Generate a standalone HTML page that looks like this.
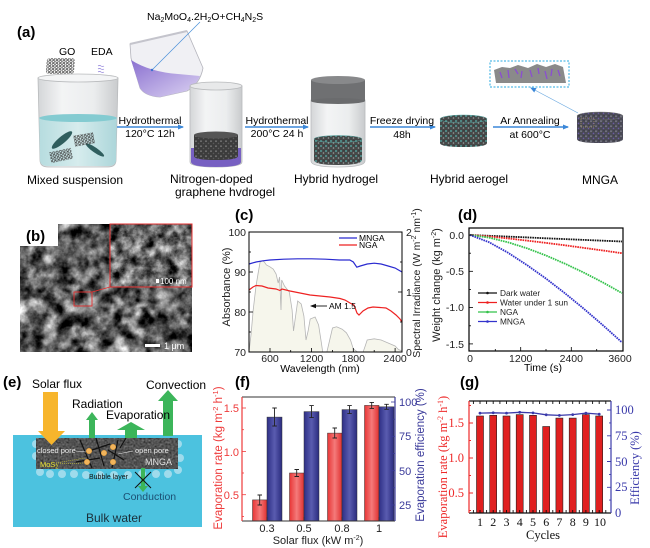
<!DOCTYPE html>
<html><head><meta charset="utf-8"><style>
html,body{margin:0;padding:0;background:#fff;}
svg{display:block;font-family:"Liberation Sans",Arial,sans-serif;}
</style></head><body>
<svg width="650" height="548" viewBox="0 0 650 548" xmlns="http://www.w3.org/2000/svg">
<defs>
 <marker id="ah" markerWidth="6" markerHeight="6" refX="5" refY="3" orient="auto" markerUnits="userSpaceOnUse"><path d="M0,0.5 L6,3 L0,5.5 Z" fill="#3b87d8"/></marker>
 <marker id="ahk" markerWidth="6" markerHeight="6" refX="5" refY="3" orient="auto" markerUnits="userSpaceOnUse"><path d="M0,0.8 L6,3 L0,5.2 Z" fill="#111"/></marker>
 <linearGradient id="glass" x1="0" x2="1"><stop offset="0" stop-color="#d4d6d8"/><stop offset="0.3" stop-color="#f3f4f5"/><stop offset="0.7" stop-color="#ebedee"/><stop offset="1" stop-color="#c9cbcd"/></linearGradient>
 <linearGradient id="water" x1="0" x2="1"><stop offset="0" stop-color="#b6dcdf"/><stop offset="0.5" stop-color="#d6eced"/><stop offset="1" stop-color="#acd6da"/></linearGradient>
 <linearGradient id="purp" x1="0" y1="0" x2="1" y2="1"><stop offset="0" stop-color="#8a70d0"/><stop offset="1" stop-color="#dcd3f2"/></linearGradient>
 <linearGradient id="redbar" x1="0" x2="1"><stop offset="0" stop-color="#e83535"/><stop offset="0.5" stop-color="#f47a7a"/><stop offset="1" stop-color="#e03030"/></linearGradient>
 <linearGradient id="bluebar" x1="0" x2="1"><stop offset="0" stop-color="#2e2f85"/><stop offset="0.5" stop-color="#5a5cb0"/><stop offset="1" stop-color="#2a2b7e"/></linearGradient>
 <pattern id="hex" width="3.5" height="3" patternUnits="userSpaceOnUse"><circle cx="1.75" cy="1.5" r="1.2" fill="none" stroke="#3a3a3a" stroke-width="0.6"/></pattern>
 <pattern id="spk" width="5" height="5" patternUnits="userSpaceOnUse"><rect width="5" height="5" fill="#454848"/><circle cx="1" cy="1" r="0.9" fill="#58b3ad"/><circle cx="3.5" cy="3" r="0.8" fill="#9a9c9c"/><circle cx="4" cy="0.8" r="0.5" fill="#2a2a2a"/></pattern>
 <pattern id="spk2" width="5" height="5" patternUnits="userSpaceOnUse"><rect width="5" height="5" fill="#4a4a55"/><circle cx="1" cy="1.2" r="0.9" fill="#7a7a88"/><circle cx="3.5" cy="3.4" r="0.8" fill="#6a5aa5"/><circle cx="4" cy="0.8" r="0.5" fill="#2a2a30"/></pattern>
 <pattern id="spk3" width="5" height="5" patternUnits="userSpaceOnUse"><rect width="5" height="5" fill="#3c3c3c"/><circle cx="1" cy="1.2" r="0.9" fill="#777"/><circle cx="3.5" cy="3.4" r="0.8" fill="#5a5a5a"/></pattern>
 <filter id="sem" x="0" y="0" width="1" height="1" color-interpolation-filters="sRGB"><feTurbulence type="fractalNoise" baseFrequency="0.07" numOctaves="4" seed="7" result="n"/><feColorMatrix in="n" type="matrix" values="0.33 0.33 0.33 0 0  0.33 0.33 0.33 0 0  0.33 0.33 0.33 0 0  0 0 0 0 1"/><feComponentTransfer><feFuncR type="linear" slope="2.8" intercept="-1.02"/><feFuncG type="linear" slope="2.8" intercept="-1.02"/><feFuncB type="linear" slope="2.8" intercept="-1.02"/></feComponentTransfer></filter>
 <filter id="sem2" x="0" y="0" width="1" height="1" color-interpolation-filters="sRGB"><feTurbulence type="fractalNoise" baseFrequency="0.09" numOctaves="4" seed="2" result="n"/><feColorMatrix in="n" type="matrix" values="0.33 0.33 0.33 0 0  0.33 0.33 0.33 0 0  0.33 0.33 0.33 0 0  0 0 0 0 1"/><feComponentTransfer><feFuncR type="linear" slope="2.6" intercept="-0.88"/><feFuncG type="linear" slope="2.6" intercept="-0.88"/><feFuncB type="linear" slope="2.6" intercept="-0.88"/></feComponentTransfer></filter>
 <filter id="grain" x="0" y="0" width="1" height="1" color-interpolation-filters="sRGB"><feTurbulence type="fractalNoise" baseFrequency="0.5" numOctaves="2" seed="4" result="n"/><feColorMatrix in="n" type="matrix" values="0.33 0.33 0.33 0 0  0.33 0.33 0.33 0 0  0.33 0.33 0.33 0 0  0 0 0 0 1"/><feComponentTransfer><feFuncR type="linear" slope="1.4" intercept="-0.35"/><feFuncG type="linear" slope="1.4" intercept="-0.35"/><feFuncB type="linear" slope="1.4" intercept="-0.35"/></feComponentTransfer></filter>
</defs>
<rect width="650" height="548" fill="#fff"/>

<!-- ================= (a) ================= -->
<text x="17" y="37" font-size="15" font-weight="bold">(a)</text>
<text x="59" y="55" font-size="10.5">GO</text>
<text x="91" y="55" font-size="10.5">EDA</text>
<rect x="51" y="58" width="28" height="16" rx="3" fill="url(#hex)" transform="skewX(-4)"/>
<path d="M98,66 q1.5,-1 3,0 q1.5,1 3,0 M98,69 q1.5,-1 3,0 q1.5,1 3,0 M98,72 q1.5,-1 3,0 q1.5,1 3,0" fill="none" stroke="#8a7ad8" stroke-width="0.7"/>

<!-- beaker 1 -->
<path d="M38,78 L40,160 Q40,167 48,167 L108,167 Q116,167 116,160 L118,78 Z" fill="url(#glass)" stroke="#b8babc" stroke-width="0.8"/>
<ellipse cx="78" cy="78" rx="40" ry="4" fill="#f4f5f6" stroke="#b8babc" stroke-width="0.8"/>
<path d="M39.2,118 L40,160 Q40,166 48,166 L108,166 Q116,166 116,160 L116.8,118 Z" fill="url(#water)"/>
<ellipse cx="78" cy="118" rx="38.8" ry="4" fill="#84cbd1"/>
<ellipse cx="62" cy="140" rx="13" ry="3.5" transform="rotate(-40 62 140)" fill="#2f5e5e"/>
<ellipse cx="95" cy="150" rx="11" ry="2.5" transform="rotate(35 95 150)" fill="#2f5e5e"/>
<rect x="74" y="134" width="20" height="11" fill="url(#hex)" transform="rotate(-10 84 139)"/>
<rect x="50" y="150" width="22" height="11" fill="url(#hex)" transform="rotate(-12 61 155)"/>

<!-- pour beaker -->
<path d="M130,44 L187,31 L203,68 Q200,84 187,91 L160,97 Q145,96 140,88 L131,58 Z" fill="#f0f0f4" stroke="#b4b4bc" stroke-width="0.8"/>
<path d="M131,60 Q150,72 178,74 L200,76 Q196,86 186,91 L160,97 Q145,96 140,88 Z" fill="url(#purp)"/>
<path d="M130,44 L187,31" stroke="#c4c4cc" stroke-width="2"/>
<line x1="200" y1="22" x2="152" y2="70" stroke="#4a90d9" stroke-width="0.7"/>
<circle cx="152" cy="70" r="1.2" fill="#3b6fd0"/>
<text x="147" y="20" font-size="10.5">Na<tspan font-size="7" dy="2">2</tspan><tspan dy="-2">MoO</tspan><tspan font-size="7" dy="2">4</tspan><tspan dy="-2">.2H</tspan><tspan font-size="7" dy="2">2</tspan><tspan dy="-2">O+CH</tspan><tspan font-size="7" dy="2">4</tspan><tspan dy="-2">N</tspan><tspan font-size="7" dy="2">2</tspan><tspan dy="-2">S</tspan></text>

<!-- arrow 1 -->
<line x1="117" y1="127" x2="183" y2="127" stroke="#3b87d8" stroke-width="1.4" marker-end="url(#ah)"/>
<text x="150" y="124" font-size="10.5" text-anchor="middle">Hydrothermal</text>
<text x="150" y="137" font-size="10.5" text-anchor="middle">120°C  12h</text>

<!-- jar 2 -->
<path d="M190,86 L190,162 Q190,167 216,167 Q242,167 242,162 L242,86 Z" fill="url(#glass)" stroke="#b8babc" stroke-width="0.8"/>
<ellipse cx="216" cy="86" rx="26" ry="4" fill="#e8e9ea" stroke="#b8babc" stroke-width="0.8"/>
<path d="M191,148 L191,162 Q191,167 216,167 Q241,167 241,162 L241,148 Z" fill="#7760c2"/>
<path d="M194,135 L194,156 Q194,160 216,160 Q238,160 238,156 L238,135 Z" fill="url(#spk3)"/>
<ellipse cx="216" cy="135" rx="22" ry="3.5" fill="#555"/>

<line x1="245" y1="127" x2="308" y2="127" stroke="#3b87d8" stroke-width="1.4" marker-end="url(#ah)"/>
<text x="277" y="124" font-size="10.5" text-anchor="middle">Hydrothermal</text>
<text x="277" y="137" font-size="10.5" text-anchor="middle">200°C  24 h</text>

<!-- jar 3 -->
<path d="M311,100 L311,161 Q311,167 338,167 Q365,167 365,161 L365,100 Z" fill="url(#glass)" stroke="#b8babc" stroke-width="0.8"/>
<rect x="311" y="80" width="54" height="21" fill="#6f7072"/>
<ellipse cx="338" cy="101" rx="27" ry="3" fill="#6a6b6d"/>
<ellipse cx="338" cy="80" rx="27" ry="4" fill="#88898b"/>
<path d="M314,139 L314,160 Q314,165 338,165 Q362,165 362,160 L362,139 Z" fill="url(#spk)"/>
<ellipse cx="338" cy="139" rx="24" ry="3.5" fill="url(#spk)" stroke="#5aa7a2" stroke-width="0.5"/>

<line x1="370" y1="127" x2="435" y2="127" stroke="#3b87d8" stroke-width="1.4" marker-end="url(#ah)"/>
<text x="402" y="124" font-size="10.5" text-anchor="middle">Freeze drying</text>
<text x="402" y="138" font-size="10.5" text-anchor="middle">48h</text>

<!-- aerogel -->
<path d="M440,119 L440,143 Q440,147 463.5,147 Q487,147 487,143 L487,119 Z" fill="url(#spk)"/>
<ellipse cx="463.5" cy="119" rx="23.5" ry="4" fill="url(#spk)" stroke="#5aa7a2" stroke-width="0.5"/>

<line x1="493" y1="127" x2="568" y2="127" stroke="#3b87d8" stroke-width="1.4" marker-end="url(#ah)"/>
<text x="530" y="124" font-size="10.5" text-anchor="middle">Ar Annealing</text>
<text x="530" y="138" font-size="10.5" text-anchor="middle">at  600°C</text>

<!-- MNGA cylinder -->
<path d="M577,116 L577,139 Q577,143 600,143 Q623,143 623,139 L623,116 Z" fill="url(#spk2)"/>
<ellipse cx="600" cy="116" rx="23" ry="4" fill="url(#spk2)" stroke="#777" stroke-width="0.4"/>
<rect x="581" y="118" width="13" height="9" fill="none" stroke="#c8b060" stroke-width="0.5" stroke-dasharray="1,1"/>
<line x1="578" y1="113" x2="531" y2="88" stroke="#6aa8e0" stroke-width="0.7" marker-end="url(#ah)"/>
<rect x="490" y="61" width="79" height="26" fill="none" stroke="#2aa9e0" stroke-width="1" stroke-dasharray="2,1.5"/>
<path d="M494,70 L502,67 L510,68 L518,65 L528,68 L537,64 L546,67 L555,64 L563,67 L566,83 L496,83 Z" fill="#8a8a8a"/>
<path d="M500,72 l2,6 M508,70 l1,8 M515,69 l3,5 M522,71 l-1,7 M530,70 l2,7 M538,68 l1,6 M545,71 l2,8 M552,69 l-1,7 M558,70 l2,6" stroke="#8a4fd0" stroke-width="1.3"/>

<!-- labels row -->
<text x="27" y="184" font-size="12">Mixed  suspension</text>
<text x="170" y="183" font-size="12">Nitrogen-doped</text>
<text x="175" y="196" font-size="12">graphene hvdrogel</text>
<text x="294" y="183" font-size="12">Hybrid  hydrogel</text>
<text x="430" y="183" font-size="12">Hybrid  aerogel</text>
<text x="582" y="184" font-size="12">MNGA</text>

<!-- ================= (b) ================= -->
<rect x="20" y="224" width="172" height="128" fill="#666" filter="url(#sem)"/>
<rect x="20" y="224" width="38" height="22" fill="#fff"/>
<text x="26" y="241" font-size="15" font-weight="bold">(b)</text>
<rect x="110" y="224" width="82" height="63" fill="#777" filter="url(#sem2)"/>
<rect x="110" y="224" width="82" height="63" fill="none" stroke="#e53030" stroke-width="1"/>
<rect x="74" y="292" width="18" height="14" fill="none" stroke="#e53030" stroke-width="0.9"/>
<line x1="92" y1="292" x2="110" y2="287" stroke="#e53030" stroke-width="0.9"/>
<rect x="156" y="279" width="3" height="4" fill="#fff"/>
<text x="160" y="284" font-size="8" fill="#fff">100 nm</text>
<rect x="145" y="344" width="15" height="3" fill="#fff"/>
<text x="164" y="349" font-size="9" fill="#fff">1 μm</text>

<!-- ================= (c) ================= -->
<text x="235" y="220" font-size="15" font-weight="bold">(c)</text>
<path d="M249,352 L251.1,334 L253.2,310 L256,286 L258,274 L260.1,262 L262.2,260.8 L264.3,262 L266.4,265 L269.9,266.8 L273.3,269.2 L276.1,274 L278.2,283 L279.6,277 L281,310 L281.7,280 L284.5,286 L289.3,292 L292.1,310 L293.5,331 L295.6,316 L297.7,301 L301.2,304 L303.9,316 L306,340 L308.1,331 L310.2,319 L315.1,317 L318.6,325 L321.4,343 L322.7,352 L326.9,352 L329.7,340 L332.5,328 L336.6,326.8 L342.2,329.2 L346.4,332.8 L350.5,340 L353.3,349 L357.5,352 L363.1,352 L365.2,346 L367.2,340 L374.2,338.8 L381.1,340 L388.1,343 L395.1,346 L398.5,349.6 L402,350.8 L402,352 Z" fill="#f6f6ec" stroke="#b5b5b5" stroke-width="0.8"/>
<polyline points="249,264 256,262 262.9,260.8 269.9,260 283.8,259.2 297.7,258.8 311.6,258.8 325.5,259.2 339.4,260 349.8,260 353.3,262 356.8,267.2 360.3,266 367.2,264 374.2,263.2 381.1,264 388.1,266 395.1,268 398.5,270 402,272" fill="none" stroke="#2a2ad0" stroke-width="1.2"/>
<polyline points="249,290 253,287 256,285.5 262,286 268,288 276,289 280,290.5 282,289 290,291 300,293 310,295 320,296 330,297 340,298.5 345,300 350,303 354,305 357,313 359,315 363,311 368,308 373,307 380,307.5 386,308 391,311 396,315 400,319 402,322" fill="none" stroke="#ee2222" stroke-width="1.2"/>
<rect x="249" y="232" width="153" height="120" fill="none" stroke="#000" stroke-width="1"/>
<g stroke="#000" stroke-width="0.8">
 <line x1="270" y1="352" x2="270" y2="348"/><line x1="311.6" y1="352" x2="311.6" y2="348"/><line x1="353.3" y1="352" x2="353.3" y2="348"/><line x1="395.1" y1="352" x2="395.1" y2="348"/>
 <line x1="290.7" y1="352" x2="290.7" y2="350"/><line x1="332.5" y1="352" x2="332.5" y2="350"/><line x1="374.2" y1="352" x2="374.2" y2="350"/>
 <line x1="249" y1="272" x2="253" y2="272"/><line x1="249" y1="312" x2="253" y2="312"/>
 <line x1="249" y1="252" x2="251" y2="252"/><line x1="249" y1="292" x2="251" y2="292"/><line x1="249" y1="332" x2="251" y2="332"/>
 <line x1="402" y1="292" x2="398" y2="292"/><line x1="402" y1="262" x2="400" y2="262"/><line x1="402" y1="322" x2="400" y2="322"/>
</g>
<g font-size="10.5" fill="#222">
 <text x="246" y="236" text-anchor="end">100</text><text x="246" y="276" text-anchor="end">90</text><text x="246" y="316" text-anchor="end">80</text><text x="246" y="356" text-anchor="end">70</text>
 <text x="406" y="236">2</text><text x="406" y="296">1</text><text x="406" y="356">0</text>
 <text x="270" y="362" text-anchor="middle">600</text><text x="311.6" y="362" text-anchor="middle">1200</text><text x="353.3" y="362" text-anchor="middle">1800</text><text x="395.1" y="362" text-anchor="middle">2400</text>
</g>
<text x="320" y="372" font-size="10.5" text-anchor="middle">Wavelength (nm)</text>
<text transform="translate(230,287) rotate(-90)" font-size="11" text-anchor="middle" fill="#222">Absorbance (%)</text>
<text transform="translate(420,283) rotate(-90)" font-size="10.5" text-anchor="middle" fill="#222">Spectral Irradiance (W m<tspan font-size="7" dy="-4">-2</tspan><tspan dy="4"> nm</tspan><tspan font-size="7" dy="-4">-1</tspan><tspan dy="4">)</tspan></text>
<line x1="339" y1="238" x2="357" y2="238" stroke="#2a2ad0" stroke-width="1.2"/>
<text x="359" y="241" font-size="8.5">MNGA</text>
<line x1="339" y1="245" x2="357" y2="245" stroke="#ee2222" stroke-width="1.2"/>
<text x="359" y="248" font-size="8.5">NGA</text>
<line x1="327" y1="306" x2="311" y2="306" stroke="#111" stroke-width="0.9" marker-end="url(#ahk)"/>
<text x="329" y="309" font-size="8.5">AM 1.5</text>

<!-- ================= (d) ================= -->
<text x="458" y="220" font-size="15" font-weight="bold">(d)</text>
<polyline points="470,235 489,235.8 508,236.6 527,237.4 546,238.3 565,239.1 584,239.9 603,240.7 622,241.5" fill="none" stroke="#111" stroke-width="1.8" stroke-dasharray="1.6,0.8"/>
<polyline points="470,235 489,236.5 508,238.4 527,240.6 546,242.9 565,245.3 584,247.9 603,250.5 622,253.2" fill="none" stroke="#ee2020" stroke-width="1.8" stroke-dasharray="1.6,0.8"/>
<polyline points="470,235 489,237.6 508,242.3 527,248.3 546,255.5 565,263.7 584,272.7 603,282.5 622,293.1" fill="none" stroke="#33c24a" stroke-width="1.8" stroke-dasharray="1.6,0.8"/>
<polyline points="470,235 489,242.2 508,252.7 527,265.1 546,278.6 565,293.3 584,308.9 603,325.3 622,342.4" fill="none" stroke="#3333cc" stroke-width="1.8" stroke-dasharray="1.6,0.8"/>
<rect x="469" y="228" width="154" height="123" fill="none" stroke="#000" stroke-width="1.2"/>
<g stroke="#000" stroke-width="0.8">
 <line x1="520.7" y1="351" x2="520.7" y2="347"/><line x1="571.3" y1="351" x2="571.3" y2="347"/>
 <line x1="495.3" y1="351" x2="495.3" y2="349"/><line x1="546" y1="351" x2="546" y2="349"/><line x1="596.7" y1="351" x2="596.7" y2="349"/>
 <line x1="469" y1="235" x2="473" y2="235"/><line x1="469" y1="271.3" x2="473" y2="271.3"/><line x1="469" y1="307.6" x2="473" y2="307.6"/><line x1="469" y1="343.9" x2="473" y2="343.9"/>
 <line x1="469" y1="253.2" x2="471" y2="253.2"/><line x1="469" y1="289.5" x2="471" y2="289.5"/><line x1="469" y1="325.8" x2="471" y2="325.8"/>
</g>
<g font-size="10.5" fill="#222">
 <text x="464" y="239" text-anchor="end">0.0</text><text x="464" y="275" text-anchor="end">-0.5</text><text x="464" y="311" text-anchor="end">-1.0</text><text x="464" y="348" text-anchor="end">-1.5</text>
 <text x="470" y="362" text-anchor="middle">0</text><text x="520.7" y="362" text-anchor="middle">1200</text><text x="571.3" y="362" text-anchor="middle">2400</text><text x="620" y="362" text-anchor="middle">3600</text>
</g>
<text x="543" y="371" font-size="10.5" text-anchor="middle">Time (s)</text>
<text transform="translate(440,285) rotate(-90)" font-size="11" text-anchor="middle" fill="#222">Weight change (kg m<tspan font-size="7" dy="-4">-2</tspan><tspan dy="4">)</tspan></text>
<g font-size="8.3" fill="#222">
 <line x1="478" y1="293" x2="497" y2="293" stroke="#111" stroke-width="1.2"/><circle cx="487.5" cy="293" r="1.3" fill="#111"/><text x="500" y="296">Dark water</text>
 <line x1="478" y1="302.5" x2="497" y2="302.5" stroke="#ee2020" stroke-width="1.2"/><circle cx="487.5" cy="302.5" r="1.3" fill="#ee2020"/><text x="500" y="305.5">Water under 1 sun</text>
 <line x1="478" y1="312" x2="497" y2="312" stroke="#33c24a" stroke-width="1.2"/><circle cx="487.5" cy="312" r="1.3" fill="#33c24a"/><text x="500" y="315">NGA</text>
 <line x1="478" y1="321.5" x2="497" y2="321.5" stroke="#3333cc" stroke-width="1.2"/><circle cx="487.5" cy="321.5" r="1.3" fill="#3333cc"/><text x="500" y="324.5">MNGA</text>
</g>

<!-- ================= (e) ================= -->
<text x="3" y="387" font-size="15" font-weight="bold">(e)</text>
<rect x="13" y="435" width="189" height="92" fill="#4cc2df"/>
<g fill="#a9deee" opacity="0.9">
 <circle cx="36" cy="444" r="4"/><circle cx="36" cy="456" r="4"/><circle cx="40" cy="472" r="4"/><circle cx="50" cy="474" r="4"/><circle cx="62" cy="474" r="4"/><circle cx="74" cy="474" r="4"/><circle cx="86" cy="475" r="4"/><circle cx="100" cy="475" r="4"/><circle cx="114" cy="475" r="4"/><circle cx="128" cy="475" r="4"/><circle cx="142" cy="474" r="4"/><circle cx="156" cy="474" r="4"/><circle cx="168" cy="474" r="4"/><circle cx="178" cy="444" r="4"/><circle cx="180" cy="458" r="4"/><circle cx="178" cy="470" r="4"/>
</g>
<rect x="36" y="438" width="142" height="31" fill="#5e5e5e" filter="url(#grain)"/>
<rect x="36" y="438" width="142" height="31" fill="#4e4e4e" opacity="0.5"/>
<path d="M80,440 L92,468 M86,452 L110,444 M96,438 L104,466 M108,450 L124,460 M118,440 L112,468 M76,462 L100,458 M120,448 L126,438" stroke="#111" stroke-width="1.2" fill="none"/>
<g fill="#f1b45c" stroke="#c98a30" stroke-width="0.5">
 <circle cx="89" cy="451" r="2.8"/><circle cx="104" cy="453" r="2.8"/><circle cx="113" cy="447" r="2.8"/><circle cx="87" cy="462" r="2.8"/><circle cx="113" cy="462" r="2.8"/>
</g>
<text x="37" y="453" font-size="7.5" fill="#e8e8e8">closed pore</text>
<text x="135" y="453" font-size="7.5" fill="#e8e8e8">open pore</text>
<line x1="76" y1="451" x2="86" y2="452" stroke="#e8e8e8" stroke-width="0.6"/>
<line x1="133" y1="451" x2="118" y2="454" stroke="#e8e8e8" stroke-width="0.6"/>
<text x="145" y="465" font-size="9" fill="#e0e0e0">MNGA</text>
<text x="40" y="467" font-size="7.5" fill="#e8e030">MoS<tspan font-size="5" dy="1.5">2</tspan></text>
<line x1="56" y1="463" x2="85" y2="458" stroke="#e8e030" stroke-width="0.5" stroke-dasharray="1,1"/>
<line x1="56" y1="464" x2="84" y2="463" stroke="#e8e030" stroke-width="0.5" stroke-dasharray="1,1"/>
<text x="89" y="479" font-size="7" fill="#111">Bubble layer</text>
<!-- arrows -->
<path d="M43,392 L58,392 L58,431 L65,431 L51.5,445 L38,431 L43,431 Z" fill="#f7b52c"/>
<path d="M89,438 L89,420 L86,420 L92,412 L98,420 L95,420 L95,438 Z" fill="#3cb55a"/>
<path d="M125,438 L125,430 L117,430 L131,422 L145,430 L137,430 L137,438 Z" fill="#3cb55a"/>
<path d="M163,436 L163,401 L158,401 L168,390 L178,401 L173,401 L173,436 Z" fill="#3cb55a"/>
<path d="M141,468 L145,468 L145,486 L148,486 L143,492 L138,486 L141,486 Z" fill="#3cb55a"/>
<path d="M135,472 L151,488 M151,472 L135,488" stroke="#111" stroke-width="1"/>
<text x="32" y="388" font-size="12">Solar flux</text>
<text x="72" y="408" font-size="12">Radiation</text>
<text x="106" y="419" font-size="12">Evaporation</text>
<text x="146" y="389" font-size="12">Convection</text>
<text x="123" y="500" font-size="10.5" fill="#1b4f72">Conduction</text>
<text x="86" y="522" font-size="12" fill="#1a2f3a">Bulk water</text>

<!-- ================= (f) ================= -->
<text x="235" y="387" font-size="15" font-weight="bold">(f)</text>
<g stroke="#333" stroke-width="0.5">
 <rect x="252.5" y="499.9" width="14.5" height="21.1" fill="url(#redbar)"/>
 <rect x="267" y="417.1" width="15" height="103.9" fill="url(#bluebar)"/>
 <rect x="289.5" y="473" width="14.5" height="48" fill="url(#redbar)"/>
 <rect x="304" y="411.6" width="15" height="109.4" fill="url(#bluebar)"/>
 <rect x="327.5" y="433.1" width="14.5" height="87.9" fill="url(#redbar)"/>
 <rect x="342" y="409.6" width="15" height="111.4" fill="url(#bluebar)"/>
 <rect x="364.5" y="405.4" width="14.5" height="115.6" fill="url(#redbar)"/>
 <rect x="379" y="406.8" width="15" height="114.2" fill="url(#bluebar)"/>
</g>
<g stroke="#222" stroke-width="0.9" fill="none">
 <path d="M259.7,495 V505 M257.5,495 H262 M257.5,505 H262"/>
 <path d="M274.5,408 V426 M272.3,408 H276.8 M272.3,426 H276.8"/>
 <path d="M296.7,469.5 V476.5 M294.5,469.5 H299 M294.5,476.5 H299"/>
 <path d="M311.5,405.6 V417.6 M309.3,405.6 H313.8 M309.3,417.6 H313.8"/>
 <path d="M334.7,428 V438 M332.5,428 H337 M332.5,438 H337"/>
 <path d="M349.5,405.6 V413.6 M347.3,405.6 H351.8 M347.3,413.6 H351.8"/>
 <path d="M371.7,402.4 V408.4 M369.5,402.4 H374 M369.5,408.4 H374"/>
 <path d="M386.5,404.3 V409.3 M384.3,404.3 H388.8 M384.3,409.3 H388.8"/>
</g>
<line x1="242" y1="397" x2="395" y2="397" stroke="#333" stroke-width="1"/>
<line x1="242" y1="521" x2="395" y2="521" stroke="#333" stroke-width="1"/>
<line x1="242" y1="397" x2="242" y2="521" stroke="#ee3a3a" stroke-width="1.2"/>
<line x1="395" y1="397" x2="395" y2="521" stroke="#3a3a9a" stroke-width="1.2"/>
<g stroke="#ee3a3a" stroke-width="0.8">
 <line x1="242" y1="408" x2="246" y2="408"/><line x1="242" y1="451.4" x2="246" y2="451.4"/><line x1="242" y1="494.7" x2="246" y2="494.7"/>
 <line x1="242" y1="429.7" x2="244" y2="429.7"/><line x1="242" y1="473" x2="244" y2="473"/><line x1="242" y1="516.4" x2="244" y2="516.4"/>
</g>
<g stroke="#3a3a9a" stroke-width="0.8">
 <line x1="395" y1="402" x2="391" y2="402"/><line x1="395" y1="436.3" x2="391" y2="436.3"/><line x1="395" y1="470.7" x2="391" y2="470.7"/><line x1="395" y1="505" x2="391" y2="505"/>
 <line x1="395" y1="419.2" x2="393" y2="419.2"/><line x1="395" y1="453.5" x2="393" y2="453.5"/><line x1="395" y1="487.8" x2="393" y2="487.8"/>
</g>
<g stroke="#333" stroke-width="0.8">
 <line x1="267" y1="521" x2="267" y2="517"/><line x1="304" y1="521" x2="304" y2="517"/><line x1="342" y1="521" x2="342" y2="517"/><line x1="379" y1="521" x2="379" y2="517"/>
</g>
<g font-size="11" fill="#ee3a3a">
 <text x="239" y="412" text-anchor="end">1.5</text><text x="239" y="456" text-anchor="end">1.0</text><text x="239" y="499" text-anchor="end">0.5</text>
</g>
<g font-size="11" fill="#3a3a9a">
 <text x="399" y="406">100</text><text x="399" y="440">75</text><text x="399" y="475">50</text><text x="399" y="509">25</text>
</g>
<g font-size="11" fill="#222" text-anchor="middle">
 <text x="267" y="532">0.3</text><text x="304" y="532">0.5</text><text x="342" y="532">0.8</text><text x="379" y="532">1</text>
</g>
<text x="318" y="544" font-size="11" text-anchor="middle" fill="#222">Solar flux (kW m<tspan font-size="7" dy="-4">-2</tspan><tspan dy="4">)</tspan></text>
<text transform="translate(222,458) rotate(-90)" font-size="11.5" text-anchor="middle" fill="#ee3a3a">Evaporation rate (kg m<tspan font-size="7.5" dy="-4">-2</tspan><tspan dy="4"> h</tspan><tspan font-size="7.5" dy="-4">-1</tspan><tspan dy="4">)</tspan></text>
<text transform="translate(424,455) rotate(-90)" font-size="11.5" text-anchor="middle" fill="#3a3a9a">Evaporation efficiency (%)</text>

<!-- ================= (g) ================= -->
<text x="460" y="387" font-size="15" font-weight="bold">(g)</text>
<g fill="#e02020" stroke="#222" stroke-width="0.6">
 <rect x="476.5" y="416" width="7" height="97"/>
 <rect x="489.7" y="415.3" width="7" height="97.7"/>
 <rect x="503" y="416" width="7" height="97"/>
 <rect x="516.2" y="414.6" width="7" height="98.4"/>
 <rect x="529.5" y="415.3" width="7" height="97.7"/>
 <rect x="542.7" y="426.5" width="7" height="86.5"/>
 <rect x="555.9" y="418.1" width="7" height="94.9"/>
 <rect x="569.2" y="418.1" width="7" height="94.9"/>
 <rect x="582.4" y="414.6" width="7" height="98.4"/>
 <rect x="595.7" y="416" width="7" height="97"/>
</g>
<polyline points="480,413.1 493.2,412.8 506.5,413.1 519.7,412.3 533,412.9 546.2,414.8 559.4,415.4 572.7,414.6 585.9,413.1 599.2,414.1" fill="none" stroke="#3a3aaa" stroke-width="1.3"/>
<g fill="#3a3aaa">
 <circle cx="480" cy="413.1" r="1.4"/><circle cx="493.2" cy="412.8" r="1.4"/><circle cx="506.5" cy="413.1" r="1.4"/><circle cx="519.7" cy="412.3" r="1.4"/><circle cx="533" cy="412.9" r="1.4"/><circle cx="546.2" cy="414.8" r="1.4"/><circle cx="559.4" cy="415.4" r="1.4"/><circle cx="572.7" cy="414.6" r="1.4"/><circle cx="585.9" cy="413.1" r="1.4"/><circle cx="599.2" cy="414.1" r="1.4"/>
</g>
<line x1="469" y1="401" x2="611" y2="401" stroke="#111" stroke-width="1.2"/>
<line x1="469" y1="513" x2="611" y2="513" stroke="#111" stroke-width="1.2"/>
<line x1="469" y1="401" x2="469" y2="513" stroke="#ee2a2a" stroke-width="1.2"/>
<line x1="611" y1="401" x2="611" y2="513" stroke="#3a3aaa" stroke-width="1.2"/>
<g stroke="#111" stroke-width="0.9">
 <path d="M473.4,401v3M480,401v3M486.6,401v3M493.2,401v3M499.9,401v3M506.5,401v3M513.1,401v3M519.7,401v3M526.4,401v3M533,401v3M539.6,401v3M546.2,401v3M552.8,401v3M559.4,401v3M566.1,401v3M572.7,401v3M579.3,401v3M585.9,401v3M592.6,401v3M599.2,401v3M605.8,401v3"/>
 <path d="M473.4,513v-3M480,513v-3M486.6,513v-3M493.2,513v-3M499.9,513v-3M506.5,513v-3M513.1,513v-3M519.7,513v-3M526.4,513v-3M533,513v-3M539.6,513v-3M546.2,513v-3M552.8,513v-3M559.4,513v-3M566.1,513v-3M572.7,513v-3M579.3,513v-3M585.9,513v-3M592.6,513v-3M599.2,513v-3M605.8,513v-3"/>
</g>
<g stroke="#ee2a2a" stroke-width="0.9">
 <path d="M469,423h4M469,458h4M469,493h4M469,405.5h2M469,440.5h2M469,475.5h2M469,510.5h2"/>
</g>
<g stroke="#3a3aaa" stroke-width="0.9">
 <path d="M611,410h-4M611,435.8h-4M611,461.5h-4M611,487.3h-4M611,422.9h-2M611,448.6h-2M611,474.4h-2M611,500.1h-2"/>
</g>
<g font-family="'Liberation Serif',serif" font-size="12.5" fill="#ee2a2a">
 <text x="464" y="427" text-anchor="end">1.5</text><text x="464" y="462" text-anchor="end">1.0</text><text x="464" y="497" text-anchor="end">0.5</text>
</g>
<g font-family="'Liberation Serif',serif" font-size="12.5" fill="#3a3aaa">
 <text x="615" y="414">100</text><text x="615" y="440">75</text><text x="615" y="466">50</text><text x="615" y="491">25</text><text x="615" y="517">0</text>
</g>
<g font-family="'Liberation Serif',serif" font-size="12" fill="#111" text-anchor="middle">
 <text x="480" y="526">1</text><text x="493.2" y="526">2</text><text x="506.5" y="526">3</text><text x="519.7" y="526">4</text><text x="533" y="526">5</text><text x="546.2" y="526">6</text><text x="559.4" y="526">7</text><text x="572.7" y="526">8</text><text x="585.9" y="526">9</text><text x="600" y="526">10</text>
</g>
<text x="543" y="539" font-family="'Liberation Serif',serif" font-size="12.5" text-anchor="middle" fill="#111">Cycles</text>
<text transform="translate(447,467) rotate(-90)" font-family="'Liberation Serif',serif" font-size="12.5" text-anchor="middle" fill="#ee2a2a">Evaporation rate (kg m<tspan font-size="8" dy="-4">-2</tspan><tspan dy="4"> h</tspan><tspan font-size="8" dy="-4">-1</tspan><tspan dy="4">)</tspan></text>
<text transform="translate(639,468) rotate(-90)" font-family="'Liberation Serif',serif" font-size="12.5" text-anchor="middle" fill="#3a3aaa">Efficiency (%)</text>
</svg>
</body></html>
